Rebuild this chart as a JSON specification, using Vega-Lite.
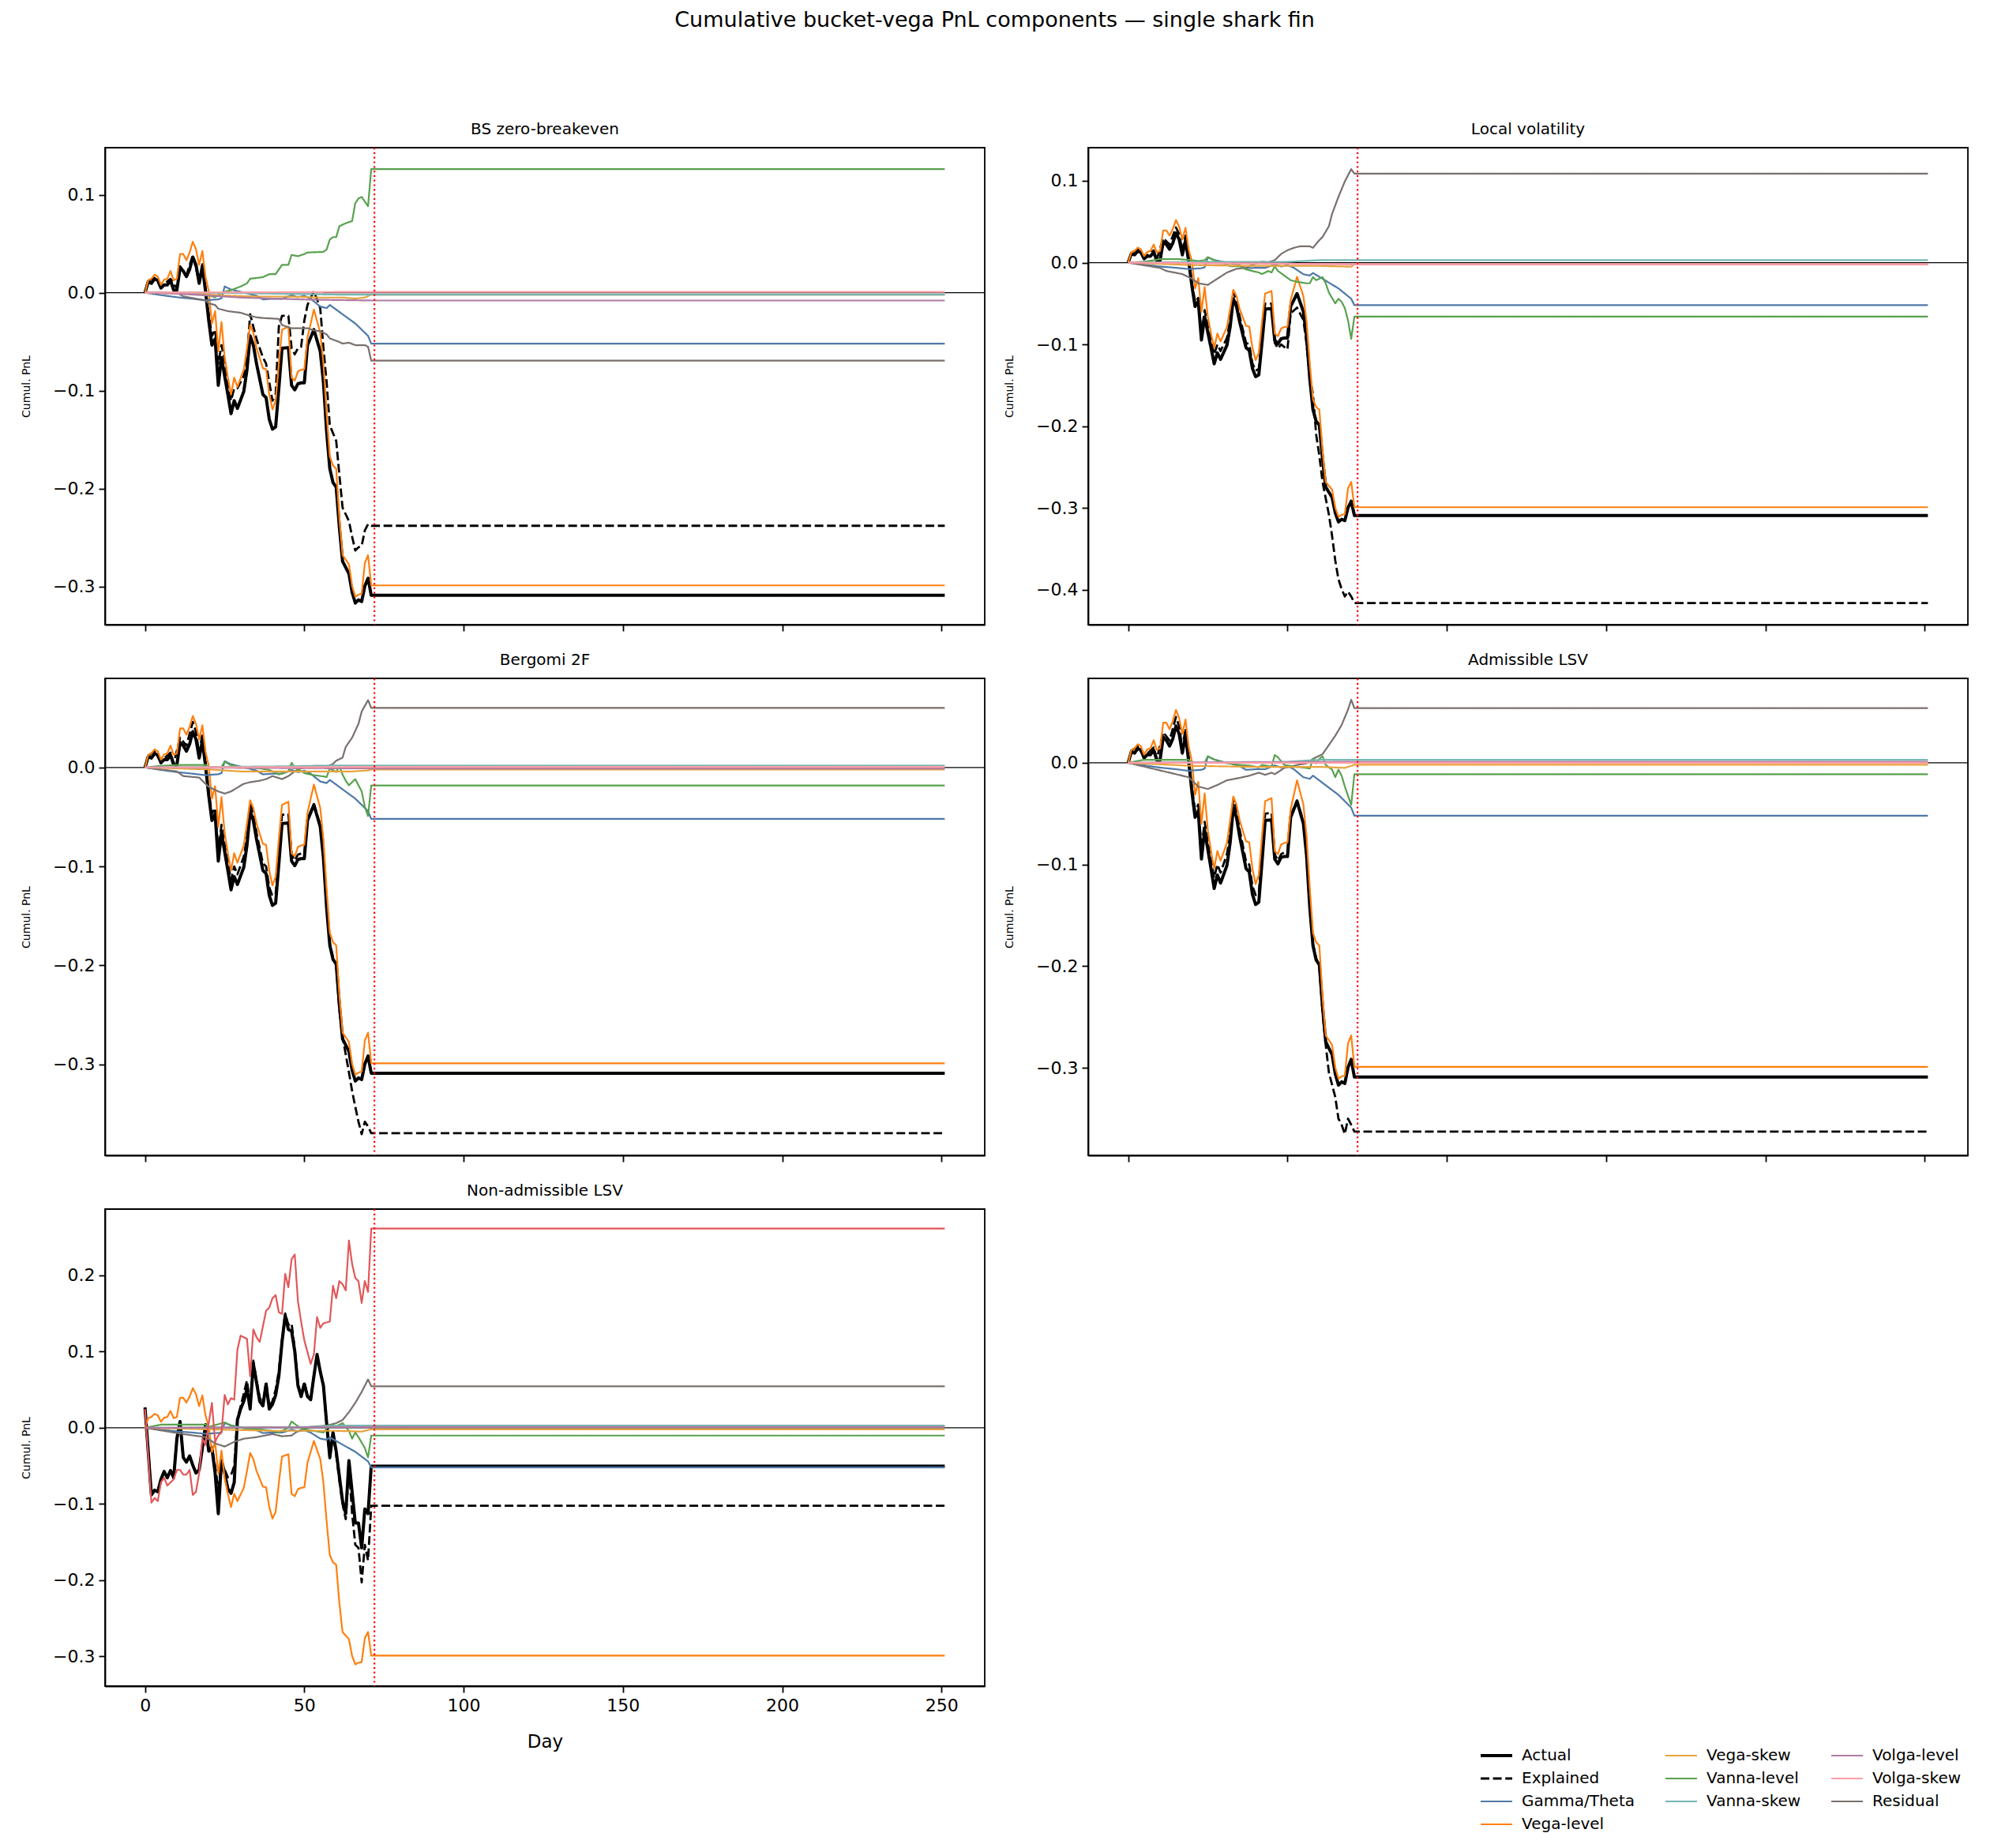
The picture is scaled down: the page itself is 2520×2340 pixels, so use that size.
{
  "$schema": "https://vega.github.io/schema/vega-lite/v6.json",
  "background": "white",
  "autosize": {"type": "pad"},
  "padding": {"left": 25, "top": 12, "right": 5, "bottom": 5},
  "title": {"text": "Cumulative bucket-vega PnL components — single shark fin", "fontSize": 27, "font": "DejaVu Sans", "fontWeight": "normal", "color": "black", "anchor": "middle", "offset": 113},
  "config": {
    "font": "DejaVu Sans",
    "view": {"stroke": "black", "strokeWidth": 1.8},
    "axis": {"domainColor": "black", "domainWidth": 1.8, "tickColor": "black", "tickWidth": 1.8, "tickSize": 8, "labelFont": "DejaVu Sans", "labelFontSize": 22, "labelColor": "black", "labelPadding": 5, "grid": false, "titleFont": "DejaVu Sans", "titleFontWeight": "normal", "titleColor": "black"},
    "title": {"font": "DejaVu Sans", "fontWeight": "normal", "fontSize": 20, "color": "black", "offset": 12},
    "legend": {"labelFont": "DejaVu Sans", "labelFontSize": 20, "labelColor": "black", "symbolType": "M-2,0H2", "symbolSize": 400, "columns": 3, "direction": "vertical", "columnPadding": 33, "rowPadding": 9, "labelOffset": 22, "orient": "none", "legendX": 1752, "legendY": 2026}
  },
  "datasets": {
    "pnl": [
      {"p":"A","s":"Actual","d":0,"v":0},{"p":"A","s":"Actual","d":1,"v":0.011},{"p":"A","s":"Actual","d":2,"v":0.0095},{"p":"A","s":"Actual","d":3,"v":0.014},{"p":"A","s":"Actual","d":4,"v":0.0126},{"p":"A","s":"Actual","d":5,"v":0.0047},{"p":"A","s":"Actual","d":6,"v":0.0079},{"p":"A","s":"Actual","d":7,"v":0.0079},{"p":"A","s":"Actual","d":8,"v":0.0126},{"p":"A","s":"Actual","d":9,"v":0.0025},{"p":"A","s":"Actual","d":10,"v":0.0025},{"p":"A","s":"Actual","d":11,"v":0.0252},{"p":"A","s":"Actual","d":12,"v":0.0221},{"p":"A","s":"Actual","d":13,"v":0.0164},{"p":"A","s":"Actual","d":14,"v":0.0236},{"p":"A","s":"Actual","d":15,"v":0.0363},{"p":"A","s":"Actual","d":16,"v":0.0284},{"p":"A","s":"Actual","d":17,"v":0.0095},{"p":"A","s":"Actual","d":18,"v":0.0268},{"p":"A","s":"Actual","d":19,"v":0.0016},{"p":"A","s":"Actual","d":20,"v":-0.0284},{"p":"A","s":"Actual","d":21,"v":-0.0536},{"p":"A","s":"Actual","d":22,"v":-0.0473},{"p":"A","s":"Actual","d":23,"v":-0.0946},{"p":"A","s":"Actual","d":24,"v":-0.0662},{"p":"A","s":"Actual","d":25,"v":-0.0851},{"p":"A","s":"Actual","d":26,"v":-0.104},{"p":"A","s":"Actual","d":27,"v":-0.1236},{"p":"A","s":"Actual","d":28,"v":-0.1103},{"p":"A","s":"Actual","d":29,"v":-0.1182},{"p":"A","s":"Actual","d":31,"v":-0.1009},{"p":"A","s":"Actual","d":32,"v":-0.0788},{"p":"A","s":"Actual","d":33,"v":-0.0441},{"p":"A","s":"Actual","d":34,"v":-0.0536},{"p":"A","s":"Actual","d":35,"v":-0.0725},{"p":"A","s":"Actual","d":37,"v":-0.104},{"p":"A","s":"Actual","d":38,"v":-0.1072},{"p":"A","s":"Actual","d":39,"v":-0.1293},{"p":"A","s":"Actual","d":40,"v":-0.1393},{"p":"A","s":"Actual","d":41,"v":-0.1371},{"p":"A","s":"Actual","d":42,"v":-0.0977},{"p":"A","s":"Actual","d":43,"v":-0.0567},{"p":"A","s":"Actual","d":45,"v":-0.0561},{"p":"A","s":"Actual","d":46,"v":-0.0946},{"p":"A","s":"Actual","d":47,"v":-0.0993},{"p":"A","s":"Actual","d":48,"v":-0.093},{"p":"A","s":"Actual","d":49,"v":-0.0921},{"p":"A","s":"Actual","d":50,"v":-0.0921},{"p":"A","s":"Actual","d":51,"v":-0.0536},{"p":"A","s":"Actual","d":53,"v":-0.0378},{"p":"A","s":"Actual","d":55,"v":-0.0599},{"p":"A","s":"Actual","d":56,"v":-0.0914},{"p":"A","s":"Actual","d":57,"v":-0.1419},{"p":"A","s":"Actual","d":58,"v":-0.1797},{"p":"A","s":"Actual","d":59,"v":-0.1939},{"p":"A","s":"Actual","d":60,"v":-0.1986},{"p":"A","s":"Actual","d":61,"v":-0.2396},{"p":"A","s":"Actual","d":62,"v":-0.2743},{"p":"A","s":"Actual","d":64,"v":-0.2869},{"p":"A","s":"Actual","d":65,"v":-0.3058},{"p":"A","s":"Actual","d":66,"v":-0.3169},{"p":"A","s":"Actual","d":67,"v":-0.3137},{"p":"A","s":"Actual","d":68,"v":-0.3153},{"p":"A","s":"Actual","d":69,"v":-0.2995},{"p":"A","s":"Actual","d":70,"v":-0.2916},{"p":"A","s":"Actual","d":71,"v":-0.309},{"p":"A","s":"Actual","d":72,"v":-0.309},{"p":"A","s":"Actual","d":251,"v":-0.309},
      {"p":"A","s":"Vega-level","d":0,"v":0},{"p":"A","s":"Vega-level","d":1,"v":0.0126},{"p":"A","s":"Vega-level","d":2,"v":0.0142},{"p":"A","s":"Vega-level","d":3,"v":0.0183},{"p":"A","s":"Vega-level","d":4,"v":0.0164},{"p":"A","s":"Vega-level","d":5,"v":0.0079},{"p":"A","s":"Vega-level","d":6,"v":0.0132},{"p":"A","s":"Vega-level","d":7,"v":0.0142},{"p":"A","s":"Vega-level","d":8,"v":0.0221},{"p":"A","s":"Vega-level","d":9,"v":0.0126},{"p":"A","s":"Vega-level","d":10,"v":0.0142},{"p":"A","s":"Vega-level","d":11,"v":0.0394},{"p":"A","s":"Vega-level","d":12,"v":0.0394},{"p":"A","s":"Vega-level","d":13,"v":0.0331},{"p":"A","s":"Vega-level","d":14,"v":0.041},{"p":"A","s":"Vega-level","d":15,"v":0.052},{"p":"A","s":"Vega-level","d":16,"v":0.0441},{"p":"A","s":"Vega-level","d":17,"v":0.0284},{"p":"A","s":"Vega-level","d":18,"v":0.0426},{"p":"A","s":"Vega-level","d":19,"v":0.0158},{"p":"A","s":"Vega-level","d":20,"v":0.0016},{"p":"A","s":"Vega-level","d":21,"v":-0.0315},{"p":"A","s":"Vega-level","d":22,"v":-0.0189},{"p":"A","s":"Vega-level","d":23,"v":-0.0599},{"p":"A","s":"Vega-level","d":24,"v":-0.03},{"p":"A","s":"Vega-level","d":25,"v":-0.0662},{"p":"A","s":"Vega-level","d":26,"v":-0.0867},{"p":"A","s":"Vega-level","d":27,"v":-0.104},{"p":"A","s":"Vega-level","d":28,"v":-0.0867},{"p":"A","s":"Vega-level","d":29,"v":-0.0962},{"p":"A","s":"Vega-level","d":31,"v":-0.0788},{"p":"A","s":"Vega-level","d":32,"v":-0.0567},{"p":"A","s":"Vega-level","d":33,"v":-0.0331},{"p":"A","s":"Vega-level","d":34,"v":-0.041},{"p":"A","s":"Vega-level","d":35,"v":-0.0567},{"p":"A","s":"Vega-level","d":37,"v":-0.0772},{"p":"A","s":"Vega-level","d":38,"v":-0.0782},{"p":"A","s":"Vega-level","d":39,"v":-0.104},{"p":"A","s":"Vega-level","d":40,"v":-0.1192},{"p":"A","s":"Vega-level","d":41,"v":-0.1103},{"p":"A","s":"Vega-level","d":42,"v":-0.0725},{"p":"A","s":"Vega-level","d":43,"v":-0.0378},{"p":"A","s":"Vega-level","d":45,"v":-0.0347},{"p":"A","s":"Vega-level","d":46,"v":-0.0867},{"p":"A","s":"Vega-level","d":47,"v":-0.0898},{"p":"A","s":"Vega-level","d":48,"v":-0.0804},{"p":"A","s":"Vega-level","d":49,"v":-0.0788},{"p":"A","s":"Vega-level","d":50,"v":-0.0782},{"p":"A","s":"Vega-level","d":51,"v":-0.0457},{"p":"A","s":"Vega-level","d":53,"v":-0.0173},{"p":"A","s":"Vega-level","d":55,"v":-0.041},{"p":"A","s":"Vega-level","d":56,"v":-0.0725},{"p":"A","s":"Vega-level","d":57,"v":-0.123},{"p":"A","s":"Vega-level","d":58,"v":-0.1671},{"p":"A","s":"Vega-level","d":59,"v":-0.1765},{"p":"A","s":"Vega-level","d":60,"v":-0.1797},{"p":"A","s":"Vega-level","d":61,"v":-0.2301},{"p":"A","s":"Vega-level","d":62,"v":-0.268},{"p":"A","s":"Vega-level","d":64,"v":-0.2774},{"p":"A","s":"Vega-level","d":65,"v":-0.2995},{"p":"A","s":"Vega-level","d":66,"v":-0.3105},{"p":"A","s":"Vega-level","d":67,"v":-0.3083},{"p":"A","s":"Vega-level","d":68,"v":-0.3074},{"p":"A","s":"Vega-level","d":69,"v":-0.2759},{"p":"A","s":"Vega-level","d":70,"v":-0.268},{"p":"A","s":"Vega-level","d":71,"v":-0.2989},{"p":"A","s":"Vega-level","d":72,"v":-0.2989},{"p":"A","s":"Vega-level","d":251,"v":-0.2989},
      {"p":"A","s":"Gamma/Theta","d":0,"v":0},{"p":"A","s":"Gamma/Theta","d":5,"v":-0.0025},{"p":"A","s":"Gamma/Theta","d":10,"v":-0.0047},{"p":"A","s":"Gamma/Theta","d":15,"v":-0.0063},{"p":"A","s":"Gamma/Theta","d":19,"v":-0.0079},{"p":"A","s":"Gamma/Theta","d":21,"v":-0.0073},{"p":"A","s":"Gamma/Theta","d":23,"v":-0.0069},{"p":"A","s":"Gamma/Theta","d":24,"v":-0.0057},{"p":"A","s":"Gamma/Theta","d":25,"v":0.0063},{"p":"A","s":"Gamma/Theta","d":27,"v":0.0032},{"p":"A","s":"Gamma/Theta","d":31,"v":0},{"p":"A","s":"Gamma/Theta","d":32,"v":-0.0006},{"p":"A","s":"Gamma/Theta","d":35,"v":-0.0032},{"p":"A","s":"Gamma/Theta","d":37,"v":-0.0069},{"p":"A","s":"Gamma/Theta","d":40,"v":-0.0063},{"p":"A","s":"Gamma/Theta","d":43,"v":-0.0063},{"p":"A","s":"Gamma/Theta","d":46,"v":-0.0025},{"p":"A","s":"Gamma/Theta","d":48,"v":-0.0047},{"p":"A","s":"Gamma/Theta","d":50,"v":-0.0032},{"p":"A","s":"Gamma/Theta","d":52,"v":-0.0063},{"p":"A","s":"Gamma/Theta","d":55,"v":-0.0142},{"p":"A","s":"Gamma/Theta","d":57,"v":-0.0158},{"p":"A","s":"Gamma/Theta","d":58,"v":-0.0126},{"p":"A","s":"Gamma/Theta","d":60,"v":-0.0173},{"p":"A","s":"Gamma/Theta","d":62,"v":-0.0221},{"p":"A","s":"Gamma/Theta","d":64,"v":-0.0268},{"p":"A","s":"Gamma/Theta","d":66,"v":-0.0315},{"p":"A","s":"Gamma/Theta","d":68,"v":-0.0378},{"p":"A","s":"Gamma/Theta","d":70,"v":-0.0441},{"p":"A","s":"Gamma/Theta","d":71,"v":-0.052},{"p":"A","s":"Gamma/Theta","d":251,"v":-0.052},

      {"p":"BS","s":"Explained","d":0,"v":0},{"p":"BS","s":"Explained","d":1,"v":0.012},{"p":"BS","s":"Explained","d":3,"v":0.015},{"p":"BS","s":"Explained","d":5,"v":0.006},{"p":"BS","s":"Explained","d":8,"v":0.014},{"p":"BS","s":"Explained","d":10,"v":0.004},{"p":"BS","s":"Explained","d":11,"v":0.027},{"p":"BS","s":"Explained","d":13,"v":0.018},{"p":"BS","s":"Explained","d":15,"v":0.038},{"p":"BS","s":"Explained","d":17,"v":0.011},{"p":"BS","s":"Explained","d":18,"v":0.029},{"p":"BS","s":"Explained","d":19,"v":0.003},{"p":"BS","s":"Explained","d":20,"v":-0.022},{"p":"BS","s":"Explained","d":21,"v":-0.0441},{"p":"BS","s":"Explained","d":22,"v":-0.0378},{"p":"BS","s":"Explained","d":23,"v":-0.0725},{"p":"BS","s":"Explained","d":24,"v":-0.0536},{"p":"BS","s":"Explained","d":25,"v":-0.069},{"p":"BS","s":"Explained","d":26,"v":-0.0914},{"p":"BS","s":"Explained","d":27,"v":-0.1103},{"p":"BS","s":"Explained","d":28,"v":-0.0977},{"p":"BS","s":"Explained","d":29,"v":-0.0977},{"p":"BS","s":"Explained","d":31,"v":-0.085},{"p":"BS","s":"Explained","d":32,"v":-0.0662},{"p":"BS","s":"Explained","d":33,"v":-0.0221},{"p":"BS","s":"Explained","d":34,"v":-0.0347},{"p":"BS","s":"Explained","d":35,"v":-0.0473},{"p":"BS","s":"Explained","d":37,"v":-0.0662},{"p":"BS","s":"Explained","d":38,"v":-0.0725},{"p":"BS","s":"Explained","d":39,"v":-0.0914},{"p":"BS","s":"Explained","d":40,"v":-0.1103},{"p":"BS","s":"Explained","d":41,"v":-0.104},{"p":"BS","s":"Explained","d":42,"v":-0.0347},{"p":"BS","s":"Explained","d":43,"v":-0.0236},{"p":"BS","s":"Explained","d":45,"v":-0.0236},{"p":"BS","s":"Explained","d":46,"v":-0.0567},{"p":"BS","s":"Explained","d":47,"v":-0.063},{"p":"BS","s":"Explained","d":48,"v":-0.0567},{"p":"BS","s":"Explained","d":49,"v":-0.0552},{"p":"BS","s":"Explained","d":50,"v":-0.0284},{"p":"BS","s":"Explained","d":51,"v":-0.0126},{"p":"BS","s":"Explained","d":53,"v":0.0016},{"p":"BS","s":"Explained","d":55,"v":-0.0158},{"p":"BS","s":"Explained","d":56,"v":-0.0567},{"p":"BS","s":"Explained","d":57,"v":-0.0914},{"p":"BS","s":"Explained","d":58,"v":-0.1356},{"p":"BS","s":"Explained","d":60,"v":-0.1513},{"p":"BS","s":"Explained","d":61,"v":-0.186},{"p":"BS","s":"Explained","d":62,"v":-0.2194},{"p":"BS","s":"Explained","d":64,"v":-0.2333},{"p":"BS","s":"Explained","d":65,"v":-0.2491},{"p":"BS","s":"Explained","d":66,"v":-0.2633},{"p":"BS","s":"Explained","d":67,"v":-0.26},{"p":"BS","s":"Explained","d":68,"v":-0.2585},{"p":"BS","s":"Explained","d":69,"v":-0.2427},{"p":"BS","s":"Explained","d":70,"v":-0.2364},{"p":"BS","s":"Explained","d":71,"v":-0.238},{"p":"BS","s":"Explained","d":251,"v":-0.238},
      {"p":"BS","s":"Vanna-level","d":0,"v":0},{"p":"BS","s":"Vanna-level","d":19,"v":0},{"p":"BS","s":"Vanna-level","d":20,"v":-0.003},{"p":"BS","s":"Vanna-level","d":22,"v":-0.0047},{"p":"BS","s":"Vanna-level","d":24,"v":0},{"p":"BS","s":"Vanna-level","d":27,"v":0.0025},{"p":"BS","s":"Vanna-level","d":30,"v":0.0063},{"p":"BS","s":"Vanna-level","d":32,"v":0.0095},{"p":"BS","s":"Vanna-level","d":33,"v":0.0142},{"p":"BS","s":"Vanna-level","d":37,"v":0.0158},{"p":"BS","s":"Vanna-level","d":39,"v":0.0189},{"p":"BS","s":"Vanna-level","d":41,"v":0.0189},{"p":"BS","s":"Vanna-level","d":42,"v":0.0236},{"p":"BS","s":"Vanna-level","d":43,"v":0.0284},{"p":"BS","s":"Vanna-level","d":45,"v":0.0284},{"p":"BS","s":"Vanna-level","d":46,"v":0.0385},{"p":"BS","s":"Vanna-level","d":48,"v":0.0372},{"p":"BS","s":"Vanna-level","d":50,"v":0.0394},{"p":"BS","s":"Vanna-level","d":51,"v":0.041},{"p":"BS","s":"Vanna-level","d":56,"v":0.0416},{"p":"BS","s":"Vanna-level","d":57,"v":0.0441},{"p":"BS","s":"Vanna-level","d":58,"v":0.0542},{"p":"BS","s":"Vanna-level","d":59,"v":0.0567},{"p":"BS","s":"Vanna-level","d":60,"v":0.0567},{"p":"BS","s":"Vanna-level","d":61,"v":0.0678},{"p":"BS","s":"Vanna-level","d":63,"v":0.0709},{"p":"BS","s":"Vanna-level","d":65,"v":0.0731},{"p":"BS","s":"Vanna-level","d":66,"v":0.0914},{"p":"BS","s":"Vanna-level","d":67,"v":0.0962},{"p":"BS","s":"Vanna-level","d":68,"v":0.0977},{"p":"BS","s":"Vanna-level","d":69,"v":0.093},{"p":"BS","s":"Vanna-level","d":70,"v":0.0883},{"p":"BS","s":"Vanna-level","d":71,"v":0.1261},{"p":"BS","s":"Vanna-level","d":251,"v":0.1261},
      {"p":"BS","s":"Residual","d":0,"v":0},{"p":"BS","s":"Residual","d":10,"v":0},{"p":"BS","s":"Residual","d":12,"v":-0.0038},{"p":"BS","s":"Residual","d":19,"v":-0.0079},{"p":"BS","s":"Residual","d":20,"v":-0.011},{"p":"BS","s":"Residual","d":22,"v":-0.0126},{"p":"BS","s":"Residual","d":23,"v":-0.0164},{"p":"BS","s":"Residual","d":26,"v":-0.0189},{"p":"BS","s":"Residual","d":30,"v":-0.0205},{"p":"BS","s":"Residual","d":33,"v":-0.0236},{"p":"BS","s":"Residual","d":35,"v":-0.0252},{"p":"BS","s":"Residual","d":37,"v":-0.0259},{"p":"BS","s":"Residual","d":42,"v":-0.0268},{"p":"BS","s":"Residual","d":43,"v":-0.0331},{"p":"BS","s":"Residual","d":46,"v":-0.0363},{"p":"BS","s":"Residual","d":51,"v":-0.0363},{"p":"BS","s":"Residual","d":53,"v":-0.0385},{"p":"BS","s":"Residual","d":55,"v":-0.0394},{"p":"BS","s":"Residual","d":57,"v":-0.0426},{"p":"BS","s":"Residual","d":58,"v":-0.0467},{"p":"BS","s":"Residual","d":61,"v":-0.0504},{"p":"BS","s":"Residual","d":62,"v":-0.052},{"p":"BS","s":"Residual","d":64,"v":-0.0511},{"p":"BS","s":"Residual","d":66,"v":-0.0536},{"p":"BS","s":"Residual","d":69,"v":-0.0536},{"p":"BS","s":"Residual","d":70,"v":-0.0552},{"p":"BS","s":"Residual","d":71,"v":-0.0694},{"p":"BS","s":"Residual","d":251,"v":-0.0694},
      {"p":"BS","s":"Vega-skew","d":0,"v":0},{"p":"BS","s":"Vega-skew","d":10,"v":-0.001},{"p":"BS","s":"Vega-skew","d":20,"v":-0.002},{"p":"BS","s":"Vega-skew","d":25,"v":-0.003},{"p":"BS","s":"Vega-skew","d":35,"v":-0.004},{"p":"BS","s":"Vega-skew","d":45,"v":-0.004},{"p":"BS","s":"Vega-skew","d":55,"v":-0.005},{"p":"BS","s":"Vega-skew","d":62,"v":-0.005},{"p":"BS","s":"Vega-skew","d":66,"v":-0.006},{"p":"BS","s":"Vega-skew","d":69,"v":-0.005},{"p":"BS","s":"Vega-skew","d":71,"v":-0.002},{"p":"BS","s":"Vega-skew","d":251,"v":-0.002},
      {"p":"BS","s":"Vanna-skew","d":0,"v":0},{"p":"BS","s":"Vanna-skew","d":20,"v":0},{"p":"BS","s":"Vanna-skew","d":40,"v":-0.001},{"p":"BS","s":"Vanna-skew","d":60,"v":-0.002},{"p":"BS","s":"Vanna-skew","d":71,"v":-0.002},{"p":"BS","s":"Vanna-skew","d":251,"v":-0.002},
      {"p":"BS","s":"Volga-level","d":0,"v":0},{"p":"BS","s":"Volga-level","d":10,"v":-0.001},{"p":"BS","s":"Volga-level","d":20,"v":-0.003},{"p":"BS","s":"Volga-level","d":30,"v":-0.005},{"p":"BS","s":"Volga-level","d":40,"v":-0.006},{"p":"BS","s":"Volga-level","d":50,"v":-0.007},{"p":"BS","s":"Volga-level","d":60,"v":-0.0075},{"p":"BS","s":"Volga-level","d":71,"v":-0.008},{"p":"BS","s":"Volga-level","d":251,"v":-0.008},
      {"p":"BS","s":"Volga-skew","d":0,"v":0},{"p":"BS","s":"Volga-skew","d":71,"v":0.0008},{"p":"BS","s":"Volga-skew","d":251,"v":0.0008},

      {"p":"LV","s":"Explained","d":0,"v":0},{"p":"LV","s":"Explained","d":1,"v":0.012},{"p":"LV","s":"Explained","d":3,"v":0.016},{"p":"LV","s":"Explained","d":5,"v":0.006},{"p":"LV","s":"Explained","d":8,"v":0.015},{"p":"LV","s":"Explained","d":9,"v":0.004},{"p":"LV","s":"Explained","d":11,"v":0.03},{"p":"LV","s":"Explained","d":13,"v":0.022},{"p":"LV","s":"Explained","d":15,"v":0.043},{"p":"LV","s":"Explained","d":16,"v":0.035},{"p":"LV","s":"Explained","d":17,"v":0.014},{"p":"LV","s":"Explained","d":18,"v":0.033},{"p":"LV","s":"Explained","d":19,"v":0.004},{"p":"LV","s":"Explained","d":20,"v":-0.025},{"p":"LV","s":"Explained","d":21,"v":-0.048},{"p":"LV","s":"Explained","d":22,"v":-0.043},{"p":"LV","s":"Explained","d":23,"v":-0.088},{"p":"LV","s":"Explained","d":24,"v":-0.058},{"p":"LV","s":"Explained","d":25,"v":-0.078},{"p":"LV","s":"Explained","d":26,"v":-0.096},{"p":"LV","s":"Explained","d":27,"v":-0.112},{"p":"LV","s":"Explained","d":28,"v":-0.1},{"p":"LV","s":"Explained","d":29,"v":-0.108},{"p":"LV","s":"Explained","d":31,"v":-0.092},{"p":"LV","s":"Explained","d":32,"v":-0.07},{"p":"LV","s":"Explained","d":33,"v":-0.036},{"p":"LV","s":"Explained","d":34,"v":-0.047},{"p":"LV","s":"Explained","d":35,"v":-0.066},{"p":"LV","s":"Explained","d":37,"v":-0.098},{"p":"LV","s":"Explained","d":38,"v":-0.1},{"p":"LV","s":"Explained","d":39,"v":-0.123},{"p":"LV","s":"Explained","d":40,"v":-0.132},{"p":"LV","s":"Explained","d":41,"v":-0.13},{"p":"LV","s":"Explained","d":42,"v":-0.09},{"p":"LV","s":"Explained","d":43,"v":-0.05},{"p":"LV","s":"Explained","d":45,"v":-0.05},{"p":"LV","s":"Explained","d":46,"v":-0.098},{"p":"LV","s":"Explained","d":47,"v":-0.105},{"p":"LV","s":"Explained","d":48,"v":-0.1},{"p":"LV","s":"Explained","d":49,"v":-0.103},{"p":"LV","s":"Explained","d":50,"v":-0.106},{"p":"LV","s":"Explained","d":51,"v":-0.062},{"p":"LV","s":"Explained","d":53,"v":-0.055},{"p":"LV","s":"Explained","d":55,"v":-0.07},{"p":"LV","s":"Explained","d":56,"v":-0.1},{"p":"LV","s":"Explained","d":57,"v":-0.14},{"p":"LV","s":"Explained","d":58,"v":-0.161},{"p":"LV","s":"Explained","d":59,"v":-0.21},{"p":"LV","s":"Explained","d":60,"v":-0.236},{"p":"LV","s":"Explained","d":61,"v":-0.268},{"p":"LV","s":"Explained","d":63,"v":-0.308},{"p":"LV","s":"Explained","d":64,"v":-0.334},{"p":"LV","s":"Explained","d":65,"v":-0.364},{"p":"LV","s":"Explained","d":66,"v":-0.387},{"p":"LV","s":"Explained","d":67,"v":-0.399},{"p":"LV","s":"Explained","d":68,"v":-0.408},{"p":"LV","s":"Explained","d":69,"v":-0.402},{"p":"LV","s":"Explained","d":70,"v":-0.408},{"p":"LV","s":"Explained","d":71,"v":-0.416},{"p":"LV","s":"Explained","d":251,"v":-0.416},
      {"p":"LV","s":"Residual","d":0,"v":0},{"p":"LV","s":"Residual","d":10,"v":-0.0064},{"p":"LV","s":"Residual","d":12,"v":-0.0102},{"p":"LV","s":"Residual","d":17,"v":-0.014},{"p":"LV","s":"Residual","d":20,"v":-0.0196},{"p":"LV","s":"Residual","d":22,"v":-0.0253},{"p":"LV","s":"Residual","d":25,"v":-0.0272},{"p":"LV","s":"Residual","d":28,"v":-0.0196},{"p":"LV","s":"Residual","d":31,"v":-0.0121},{"p":"LV","s":"Residual","d":34,"v":-0.0075},{"p":"LV","s":"Residual","d":37,"v":-0.0064},{"p":"LV","s":"Residual","d":39,"v":-0.0026},{"p":"LV","s":"Residual","d":42,"v":0.0011},{"p":"LV","s":"Residual","d":44,"v":0.0004},{"p":"LV","s":"Residual","d":46,"v":0.003},{"p":"LV","s":"Residual","d":48,"v":0.0106},{"p":"LV","s":"Residual","d":50,"v":0.0151},{"p":"LV","s":"Residual","d":52,"v":0.0181},{"p":"LV","s":"Residual","d":54,"v":0.02},{"p":"LV","s":"Residual","d":57,"v":0.02},{"p":"LV","s":"Residual","d":58,"v":0.0181},{"p":"LV","s":"Residual","d":60,"v":0.0275},{"p":"LV","s":"Residual","d":61,"v":0.0313},{"p":"LV","s":"Residual","d":63,"v":0.0445},{"p":"LV","s":"Residual","d":64,"v":0.0596},{"p":"LV","s":"Residual","d":66,"v":0.0804},{"p":"LV","s":"Residual","d":68,"v":0.0992},{"p":"LV","s":"Residual","d":70,"v":0.1143},{"p":"LV","s":"Residual","d":71,"v":0.1087},{"p":"LV","s":"Residual","d":251,"v":0.1087},
      {"p":"LV","s":"Vanna-level","d":0,"v":0},{"p":"LV","s":"Vanna-level","d":5,"v":0.0011},{"p":"LV","s":"Vanna-level","d":10,"v":0.0042},{"p":"LV","s":"Vanna-level","d":16,"v":0.0042},{"p":"LV","s":"Vanna-level","d":20,"v":0.003},{"p":"LV","s":"Vanna-level","d":22,"v":0.0019},{"p":"LV","s":"Vanna-level","d":24,"v":0.003},{"p":"LV","s":"Vanna-level","d":25,"v":0.0068},{"p":"LV","s":"Vanna-level","d":27,"v":0.003},{"p":"LV","s":"Vanna-level","d":30,"v":-0.0008},{"p":"LV","s":"Vanna-level","d":32,"v":-0.0045},{"p":"LV","s":"Vanna-level","d":35,"v":-0.0045},{"p":"LV","s":"Vanna-level","d":37,"v":-0.0083},{"p":"LV","s":"Vanna-level","d":39,"v":-0.0102},{"p":"LV","s":"Vanna-level","d":41,"v":-0.0121},{"p":"LV","s":"Vanna-level","d":42,"v":-0.014},{"p":"LV","s":"Vanna-level","d":44,"v":-0.0102},{"p":"LV","s":"Vanna-level","d":45,"v":-0.0121},{"p":"LV","s":"Vanna-level","d":46,"v":-0.0045},{"p":"LV","s":"Vanna-level","d":47,"v":-0.0102},{"p":"LV","s":"Vanna-level","d":49,"v":-0.0158},{"p":"LV","s":"Vanna-level","d":51,"v":-0.0215},{"p":"LV","s":"Vanna-level","d":53,"v":-0.0234},{"p":"LV","s":"Vanna-level","d":56,"v":-0.0253},{"p":"LV","s":"Vanna-level","d":57,"v":-0.0253},{"p":"LV","s":"Vanna-level","d":58,"v":-0.0177},{"p":"LV","s":"Vanna-level","d":59,"v":-0.0215},{"p":"LV","s":"Vanna-level","d":60,"v":-0.0196},{"p":"LV","s":"Vanna-level","d":61,"v":-0.0177},{"p":"LV","s":"Vanna-level","d":62,"v":-0.0253},{"p":"LV","s":"Vanna-level","d":63,"v":-0.0366},{"p":"LV","s":"Vanna-level","d":65,"v":-0.0498},{"p":"LV","s":"Vanna-level","d":66,"v":-0.0442},{"p":"LV","s":"Vanna-level","d":67,"v":-0.0479},{"p":"LV","s":"Vanna-level","d":68,"v":-0.0555},{"p":"LV","s":"Vanna-level","d":69,"v":-0.0706},{"p":"LV","s":"Vanna-level","d":70,"v":-0.0932},{"p":"LV","s":"Vanna-level","d":71,"v":-0.066},{"p":"LV","s":"Vanna-level","d":251,"v":-0.066},
      {"p":"LV","s":"Vega-skew","d":0,"v":0},{"p":"LV","s":"Vega-skew","d":20,"v":-0.003},{"p":"LV","s":"Vega-skew","d":40,"v":-0.004},{"p":"LV","s":"Vega-skew","d":60,"v":-0.004},{"p":"LV","s":"Vega-skew","d":70,"v":-0.005},{"p":"LV","s":"Vega-skew","d":71,"v":-0.002},{"p":"LV","s":"Vega-skew","d":251,"v":-0.002},
      {"p":"LV","s":"Vanna-skew","d":0,"v":0},{"p":"LV","s":"Vanna-skew","d":30,"v":0.001},{"p":"LV","s":"Vanna-skew","d":50,"v":0.001},{"p":"LV","s":"Vanna-skew","d":60,"v":0.003},{"p":"LV","s":"Vanna-skew","d":71,"v":0.003},{"p":"LV","s":"Vanna-skew","d":251,"v":0.003},
      {"p":"LV","s":"Volga-level","d":0,"v":0},{"p":"LV","s":"Volga-level","d":40,"v":-0.001},{"p":"LV","s":"Volga-level","d":71,"v":-0.002},{"p":"LV","s":"Volga-level","d":251,"v":-0.002},
      {"p":"LV","s":"Volga-skew","d":0,"v":0},{"p":"LV","s":"Volga-skew","d":71,"v":-0.002},{"p":"LV","s":"Volga-skew","d":251,"v":-0.002},

      {"p":"B2","s":"Explained","d":0,"v":0},{"p":"B2","s":"Explained","d":1,"v":0.012},{"p":"B2","s":"Explained","d":3,"v":0.016},{"p":"B2","s":"Explained","d":5,"v":0.006},{"p":"B2","s":"Explained","d":8,"v":0.015},{"p":"B2","s":"Explained","d":9,"v":0.004},{"p":"B2","s":"Explained","d":11,"v":0.03},{"p":"B2","s":"Explained","d":13,"v":0.022},{"p":"B2","s":"Explained","d":15,"v":0.046},{"p":"B2","s":"Explained","d":16,"v":0.036},{"p":"B2","s":"Explained","d":17,"v":0.014},{"p":"B2","s":"Explained","d":18,"v":0.034},{"p":"B2","s":"Explained","d":19,"v":0.004},{"p":"B2","s":"Explained","d":20,"v":-0.024},{"p":"B2","s":"Explained","d":21,"v":-0.047},{"p":"B2","s":"Explained","d":22,"v":-0.041},{"p":"B2","s":"Explained","d":23,"v":-0.085},{"p":"B2","s":"Explained","d":24,"v":-0.058},{"p":"B2","s":"Explained","d":25,"v":-0.078},{"p":"B2","s":"Explained","d":26,"v":-0.096},{"p":"B2","s":"Explained","d":27,"v":-0.114},{"p":"B2","s":"Explained","d":28,"v":-0.1},{"p":"B2","s":"Explained","d":29,"v":-0.108},{"p":"B2","s":"Explained","d":31,"v":-0.09},{"p":"B2","s":"Explained","d":32,"v":-0.07},{"p":"B2","s":"Explained","d":33,"v":-0.036},{"p":"B2","s":"Explained","d":34,"v":-0.046},{"p":"B2","s":"Explained","d":35,"v":-0.066},{"p":"B2","s":"Explained","d":37,"v":-0.097},{"p":"B2","s":"Explained","d":38,"v":-0.1},{"p":"B2","s":"Explained","d":39,"v":-0.121},{"p":"B2","s":"Explained","d":40,"v":-0.13},{"p":"B2","s":"Explained","d":41,"v":-0.128},{"p":"B2","s":"Explained","d":42,"v":-0.09},{"p":"B2","s":"Explained","d":43,"v":-0.048},{"p":"B2","s":"Explained","d":45,"v":-0.047},{"p":"B2","s":"Explained","d":46,"v":-0.088},{"p":"B2","s":"Explained","d":47,"v":-0.094},{"p":"B2","s":"Explained","d":48,"v":-0.088},{"p":"B2","s":"Explained","d":49,"v":-0.087},{"p":"B2","s":"Explained","d":50,"v":-0.087},{"p":"B2","s":"Explained","d":51,"v":-0.052},{"p":"B2","s":"Explained","d":53,"v":-0.037},{"p":"B2","s":"Explained","d":55,"v":-0.058},{"p":"B2","s":"Explained","d":56,"v":-0.09},{"p":"B2","s":"Explained","d":57,"v":-0.14},{"p":"B2","s":"Explained","d":58,"v":-0.178},{"p":"B2","s":"Explained","d":59,"v":-0.192},{"p":"B2","s":"Explained","d":60,"v":-0.2},{"p":"B2","s":"Explained","d":61,"v":-0.245},{"p":"B2","s":"Explained","d":62,"v":-0.272},{"p":"B2","s":"Explained","d":64,"v":-0.308},{"p":"B2","s":"Explained","d":65,"v":-0.327},{"p":"B2","s":"Explained","d":66,"v":-0.343},{"p":"B2","s":"Explained","d":67,"v":-0.358},{"p":"B2","s":"Explained","d":68,"v":-0.3705},{"p":"B2","s":"Explained","d":69,"v":-0.358},{"p":"B2","s":"Explained","d":70,"v":-0.3627},{"p":"B2","s":"Explained","d":71,"v":-0.3696},{"p":"B2","s":"Explained","d":251,"v":-0.3696},
      {"p":"B2","s":"Residual","d":0,"v":0},{"p":"B2","s":"Residual","d":10,"v":-0.004},{"p":"B2","s":"Residual","d":12,"v":-0.0087},{"p":"B2","s":"Residual","d":17,"v":-0.0102},{"p":"B2","s":"Residual","d":18,"v":-0.0134},{"p":"B2","s":"Residual","d":20,"v":-0.0196},{"p":"B2","s":"Residual","d":23,"v":-0.0242},{"p":"B2","s":"Residual","d":25,"v":-0.0264},{"p":"B2","s":"Residual","d":27,"v":-0.0242},{"p":"B2","s":"Residual","d":31,"v":-0.0165},{"p":"B2","s":"Residual","d":33,"v":-0.0149},{"p":"B2","s":"Residual","d":36,"v":-0.0134},{"p":"B2","s":"Residual","d":38,"v":-0.0118},{"p":"B2","s":"Residual","d":40,"v":-0.0087},{"p":"B2","s":"Residual","d":43,"v":-0.0118},{"p":"B2","s":"Residual","d":45,"v":-0.0087},{"p":"B2","s":"Residual","d":47,"v":-0.004},{"p":"B2","s":"Residual","d":49,"v":-0.0009},{"p":"B2","s":"Residual","d":51,"v":0.0006},{"p":"B2","s":"Residual","d":53,"v":0.0016},{"p":"B2","s":"Residual","d":56,"v":0.0016},{"p":"B2","s":"Residual","d":57,"v":0.0006},{"p":"B2","s":"Residual","d":59,"v":0.0037},{"p":"B2","s":"Residual","d":60,"v":0.0068},{"p":"B2","s":"Residual","d":62,"v":0.0099},{"p":"B2","s":"Residual","d":63,"v":0.0208},{"p":"B2","s":"Residual","d":65,"v":0.0301},{"p":"B2","s":"Residual","d":67,"v":0.0441},{"p":"B2","s":"Residual","d":68,"v":0.0565},{"p":"B2","s":"Residual","d":70,"v":0.068},{"p":"B2","s":"Residual","d":71,"v":0.0602},{"p":"B2","s":"Residual","d":251,"v":0.0602},
      {"p":"B2","s":"Vanna-level","d":0,"v":0},{"p":"B2","s":"Vanna-level","d":5,"v":0.0016},{"p":"B2","s":"Vanna-level","d":10,"v":0.0025},{"p":"B2","s":"Vanna-level","d":19,"v":0.0025},{"p":"B2","s":"Vanna-level","d":20,"v":0},{"p":"B2","s":"Vanna-level","d":24,"v":0.0006},{"p":"B2","s":"Vanna-level","d":25,"v":0.0059},{"p":"B2","s":"Vanna-level","d":27,"v":0.0022},{"p":"B2","s":"Vanna-level","d":31,"v":0},{"p":"B2","s":"Vanna-level","d":33,"v":-0.0003},{"p":"B2","s":"Vanna-level","d":36,"v":-0.0009},{"p":"B2","s":"Vanna-level","d":39,"v":-0.0025},{"p":"B2","s":"Vanna-level","d":40,"v":-0.004},{"p":"B2","s":"Vanna-level","d":42,"v":-0.0071},{"p":"B2","s":"Vanna-level","d":45,"v":-0.004},{"p":"B2","s":"Vanna-level","d":46,"v":0.0047},{"p":"B2","s":"Vanna-level","d":47,"v":-0.0003},{"p":"B2","s":"Vanna-level","d":50,"v":-0.0056},{"p":"B2","s":"Vanna-level","d":51,"v":-0.0065},{"p":"B2","s":"Vanna-level","d":53,"v":-0.0078},{"p":"B2","s":"Vanna-level","d":56,"v":-0.009},{"p":"B2","s":"Vanna-level","d":57,"v":-0.0096},{"p":"B2","s":"Vanna-level","d":58,"v":-0.0009},{"p":"B2","s":"Vanna-level","d":60,"v":-0.0047},{"p":"B2","s":"Vanna-level","d":61,"v":0.0016},{"p":"B2","s":"Vanna-level","d":62,"v":-0.0071},{"p":"B2","s":"Vanna-level","d":63,"v":-0.0134},{"p":"B2","s":"Vanna-level","d":64,"v":-0.018},{"p":"B2","s":"Vanna-level","d":66,"v":-0.0118},{"p":"B2","s":"Vanna-level","d":67,"v":-0.018},{"p":"B2","s":"Vanna-level","d":68,"v":-0.0242},{"p":"B2","s":"Vanna-level","d":69,"v":-0.0398},{"p":"B2","s":"Vanna-level","d":70,"v":-0.0491},{"p":"B2","s":"Vanna-level","d":71,"v":-0.0183},{"p":"B2","s":"Vanna-level","d":251,"v":-0.0183},
      {"p":"B2","s":"Vega-skew","d":0,"v":0},{"p":"B2","s":"Vega-skew","d":20,"v":-0.002},{"p":"B2","s":"Vega-skew","d":30,"v":-0.004},{"p":"B2","s":"Vega-skew","d":50,"v":-0.004},{"p":"B2","s":"Vega-skew","d":65,"v":-0.004},{"p":"B2","s":"Vega-skew","d":70,"v":-0.003},{"p":"B2","s":"Vega-skew","d":71,"v":-0.002},{"p":"B2","s":"Vega-skew","d":251,"v":-0.002},
      {"p":"B2","s":"Vanna-skew","d":0,"v":0},{"p":"B2","s":"Vanna-skew","d":40,"v":0.001},{"p":"B2","s":"Vanna-skew","d":60,"v":0.002},{"p":"B2","s":"Vanna-skew","d":71,"v":0.002},{"p":"B2","s":"Vanna-skew","d":251,"v":0.002},
      {"p":"B2","s":"Volga-level","d":0,"v":0},{"p":"B2","s":"Volga-level","d":71,"v":-0.001},{"p":"B2","s":"Volga-level","d":251,"v":-0.001},
      {"p":"B2","s":"Volga-skew","d":0,"v":0},{"p":"B2","s":"Volga-skew","d":71,"v":0.0005},{"p":"B2","s":"Volga-skew","d":251,"v":0.0005},

      {"p":"AL","s":"Explained","d":0,"v":0},{"p":"AL","s":"Explained","d":1,"v":0.012},{"p":"AL","s":"Explained","d":3,"v":0.016},{"p":"AL","s":"Explained","d":5,"v":0.006},{"p":"AL","s":"Explained","d":8,"v":0.015},{"p":"AL","s":"Explained","d":9,"v":0.004},{"p":"AL","s":"Explained","d":11,"v":0.03},{"p":"AL","s":"Explained","d":13,"v":0.022},{"p":"AL","s":"Explained","d":15,"v":0.045},{"p":"AL","s":"Explained","d":16,"v":0.036},{"p":"AL","s":"Explained","d":17,"v":0.014},{"p":"AL","s":"Explained","d":18,"v":0.034},{"p":"AL","s":"Explained","d":19,"v":0.004},{"p":"AL","s":"Explained","d":20,"v":-0.024},{"p":"AL","s":"Explained","d":21,"v":-0.047},{"p":"AL","s":"Explained","d":22,"v":-0.041},{"p":"AL","s":"Explained","d":23,"v":-0.085},{"p":"AL","s":"Explained","d":24,"v":-0.058},{"p":"AL","s":"Explained","d":25,"v":-0.078},{"p":"AL","s":"Explained","d":26,"v":-0.096},{"p":"AL","s":"Explained","d":27,"v":-0.113},{"p":"AL","s":"Explained","d":28,"v":-0.1},{"p":"AL","s":"Explained","d":29,"v":-0.108},{"p":"AL","s":"Explained","d":31,"v":-0.09},{"p":"AL","s":"Explained","d":32,"v":-0.07},{"p":"AL","s":"Explained","d":33,"v":-0.036},{"p":"AL","s":"Explained","d":34,"v":-0.046},{"p":"AL","s":"Explained","d":35,"v":-0.066},{"p":"AL","s":"Explained","d":37,"v":-0.097},{"p":"AL","s":"Explained","d":38,"v":-0.1},{"p":"AL","s":"Explained","d":39,"v":-0.121},{"p":"AL","s":"Explained","d":40,"v":-0.13},{"p":"AL","s":"Explained","d":41,"v":-0.128},{"p":"AL","s":"Explained","d":42,"v":-0.09},{"p":"AL","s":"Explained","d":43,"v":-0.05},{"p":"AL","s":"Explained","d":45,"v":-0.049},{"p":"AL","s":"Explained","d":46,"v":-0.09},{"p":"AL","s":"Explained","d":47,"v":-0.096},{"p":"AL","s":"Explained","d":48,"v":-0.09},{"p":"AL","s":"Explained","d":49,"v":-0.088},{"p":"AL","s":"Explained","d":50,"v":-0.088},{"p":"AL","s":"Explained","d":51,"v":-0.052},{"p":"AL","s":"Explained","d":53,"v":-0.037},{"p":"AL","s":"Explained","d":55,"v":-0.058},{"p":"AL","s":"Explained","d":56,"v":-0.09},{"p":"AL","s":"Explained","d":57,"v":-0.14},{"p":"AL","s":"Explained","d":58,"v":-0.178},{"p":"AL","s":"Explained","d":59,"v":-0.192},{"p":"AL","s":"Explained","d":60,"v":-0.2},{"p":"AL","s":"Explained","d":61,"v":-0.245},{"p":"AL","s":"Explained","d":62,"v":-0.2773},{"p":"AL","s":"Explained","d":63,"v":-0.3045},{"p":"AL","s":"Explained","d":65,"v":-0.3287},{"p":"AL","s":"Explained","d":66,"v":-0.3499},{"p":"AL","s":"Explained","d":67,"v":-0.3559},{"p":"AL","s":"Explained","d":68,"v":-0.365},{"p":"AL","s":"Explained","d":69,"v":-0.3499},{"p":"AL","s":"Explained","d":70,"v":-0.3559},{"p":"AL","s":"Explained","d":71,"v":-0.3626},{"p":"AL","s":"Explained","d":251,"v":-0.3626},
      {"p":"AL","s":"Residual","d":0,"v":0},{"p":"AL","s":"Residual","d":11,"v":-0.0082},{"p":"AL","s":"Residual","d":19,"v":-0.0142},{"p":"AL","s":"Residual","d":22,"v":-0.0233},{"p":"AL","s":"Residual","d":25,"v":-0.0257},{"p":"AL","s":"Residual","d":28,"v":-0.0218},{"p":"AL","s":"Residual","d":31,"v":-0.0172},{"p":"AL","s":"Residual","d":35,"v":-0.0148},{"p":"AL","s":"Residual","d":38,"v":-0.0127},{"p":"AL","s":"Residual","d":41,"v":-0.0097},{"p":"AL","s":"Residual","d":43,"v":-0.0118},{"p":"AL","s":"Residual","d":45,"v":-0.0097},{"p":"AL","s":"Residual","d":46,"v":-0.0112},{"p":"AL","s":"Residual","d":49,"v":-0.0051},{"p":"AL","s":"Residual","d":53,"v":-0.0021},{"p":"AL","s":"Residual","d":56,"v":-0.0006},{"p":"AL","s":"Residual","d":58,"v":0.0039},{"p":"AL","s":"Residual","d":61,"v":0.0085},{"p":"AL","s":"Residual","d":63,"v":0.0175},{"p":"AL","s":"Residual","d":65,"v":0.0266},{"p":"AL","s":"Residual","d":67,"v":0.0372},{"p":"AL","s":"Residual","d":69,"v":0.0523},{"p":"AL","s":"Residual","d":70,"v":0.062},{"p":"AL","s":"Residual","d":71,"v":0.0538},{"p":"AL","s":"Residual","d":251,"v":0.0538},
      {"p":"AL","s":"Vanna-level","d":0,"v":0},{"p":"AL","s":"Vanna-level","d":5,"v":0.003},{"p":"AL","s":"Vanna-level","d":19,"v":0.003},{"p":"AL","s":"Vanna-level","d":20,"v":0},{"p":"AL","s":"Vanna-level","d":24,"v":0},{"p":"AL","s":"Vanna-level","d":25,"v":0.0064},{"p":"AL","s":"Vanna-level","d":27,"v":0.0033},{"p":"AL","s":"Vanna-level","d":30,"v":0},{"p":"AL","s":"Vanna-level","d":35,"v":-0.0021},{"p":"AL","s":"Vanna-level","d":38,"v":-0.0027},{"p":"AL","s":"Vanna-level","d":41,"v":-0.0045},{"p":"AL","s":"Vanna-level","d":42,"v":-0.0021},{"p":"AL","s":"Vanna-level","d":45,"v":-0.0036},{"p":"AL","s":"Vanna-level","d":46,"v":0.0076},{"p":"AL","s":"Vanna-level","d":47,"v":0.0054},{"p":"AL","s":"Vanna-level","d":49,"v":-0.0021},{"p":"AL","s":"Vanna-level","d":52,"v":-0.0036},{"p":"AL","s":"Vanna-level","d":56,"v":-0.0051},{"p":"AL","s":"Vanna-level","d":57,"v":-0.0057},{"p":"AL","s":"Vanna-level","d":58,"v":0.0039},{"p":"AL","s":"Vanna-level","d":59,"v":-0.0006},{"p":"AL","s":"Vanna-level","d":60,"v":0.0039},{"p":"AL","s":"Vanna-level","d":61,"v":0.0064},{"p":"AL","s":"Vanna-level","d":62,"v":-0.0021},{"p":"AL","s":"Vanna-level","d":64,"v":-0.0067},{"p":"AL","s":"Vanna-level","d":65,"v":-0.0142},{"p":"AL","s":"Vanna-level","d":66,"v":-0.0067},{"p":"AL","s":"Vanna-level","d":67,"v":-0.0127},{"p":"AL","s":"Vanna-level","d":68,"v":-0.0233},{"p":"AL","s":"Vanna-level","d":70,"v":-0.0414},{"p":"AL","s":"Vanna-level","d":71,"v":-0.0112},{"p":"AL","s":"Vanna-level","d":251,"v":-0.0112},
      {"p":"AL","s":"Vega-skew","d":0,"v":0},{"p":"AL","s":"Vega-skew","d":20,"v":-0.003},{"p":"AL","s":"Vega-skew","d":40,"v":-0.004},{"p":"AL","s":"Vega-skew","d":60,"v":-0.004},{"p":"AL","s":"Vega-skew","d":68,"v":-0.005},{"p":"AL","s":"Vega-skew","d":70,"v":-0.003},{"p":"AL","s":"Vega-skew","d":71,"v":-0.002},{"p":"AL","s":"Vega-skew","d":251,"v":-0.002},
      {"p":"AL","s":"Vanna-skew","d":0,"v":0},{"p":"AL","s":"Vanna-skew","d":50,"v":0.001},{"p":"AL","s":"Vanna-skew","d":60,"v":0.003},{"p":"AL","s":"Vanna-skew","d":71,"v":0.003},{"p":"AL","s":"Vanna-skew","d":251,"v":0.003},
      {"p":"AL","s":"Volga-level","d":0,"v":0},{"p":"AL","s":"Volga-level","d":71,"v":0.001},{"p":"AL","s":"Volga-level","d":251,"v":0.001},
      {"p":"AL","s":"Volga-skew","d":0,"v":0},{"p":"AL","s":"Volga-skew","d":251,"v":0},

      {"p":"NA","s":"Actual","d":0,"v":0.0266},{"p":"NA","s":"Actual","d":2,"v":-0.0881},{"p":"NA","s":"Actual","d":3,"v":-0.0819},{"p":"NA","s":"Actual","d":4,"v":-0.084},{"p":"NA","s":"Actual","d":5,"v":-0.0676},{"p":"NA","s":"Actual","d":6,"v":-0.0574},{"p":"NA","s":"Actual","d":7,"v":-0.0655},{"p":"NA","s":"Actual","d":8,"v":-0.0561},{"p":"NA","s":"Actual","d":9,"v":-0.0655},{"p":"NA","s":"Actual","d":10,"v":-0.0143},{"p":"NA","s":"Actual","d":11,"v":0.0082},{"p":"NA","s":"Actual","d":12,"v":-0.0389},{"p":"NA","s":"Actual","d":13,"v":-0.0451},{"p":"NA","s":"Actual","d":14,"v":-0.0369},{"p":"NA","s":"Actual","d":15,"v":-0.0492},{"p":"NA","s":"Actual","d":16,"v":-0.0594},{"p":"NA","s":"Actual","d":17,"v":-0.0553},{"p":"NA","s":"Actual","d":18,"v":-0.0266},{"p":"NA","s":"Actual","d":19,"v":0.0041},{"p":"NA","s":"Actual","d":20,"v":-0.0307},{"p":"NA","s":"Actual","d":21,"v":-0.0266},{"p":"NA","s":"Actual","d":22,"v":-0.0594},{"p":"NA","s":"Actual","d":23,"v":-0.1127},{"p":"NA","s":"Actual","d":24,"v":-0.043},{"p":"NA","s":"Actual","d":25,"v":-0.0594},{"p":"NA","s":"Actual","d":26,"v":-0.0799},{"p":"NA","s":"Actual","d":27,"v":-0.086},{"p":"NA","s":"Actual","d":28,"v":-0.0717},{"p":"NA","s":"Actual","d":29,"v":0.0102},{"p":"NA","s":"Actual","d":30,"v":0.0246},{"p":"NA","s":"Actual","d":31,"v":0.0348},{"p":"NA","s":"Actual","d":32,"v":0.0512},{"p":"NA","s":"Actual","d":33,"v":0.0246},{"p":"NA","s":"Actual","d":34,"v":0.084},{"p":"NA","s":"Actual","d":35,"v":0.0594},{"p":"NA","s":"Actual","d":36,"v":0.0348},{"p":"NA","s":"Actual","d":37,"v":0.0287},{"p":"NA","s":"Actual","d":38,"v":0.0574},{"p":"NA","s":"Actual","d":39,"v":0.0246},{"p":"NA","s":"Actual","d":40,"v":0.0307},{"p":"NA","s":"Actual","d":41,"v":0.043},{"p":"NA","s":"Actual","d":42,"v":0.0676},{"p":"NA","s":"Actual","d":43,"v":0.1127},{"p":"NA","s":"Actual","d":44,"v":0.1475},{"p":"NA","s":"Actual","d":45,"v":0.129},{"p":"NA","s":"Actual","d":46,"v":0.127},{"p":"NA","s":"Actual","d":47,"v":0.1004},{"p":"NA","s":"Actual","d":48,"v":0.0553},{"p":"NA","s":"Actual","d":49,"v":0.041},{"p":"NA","s":"Actual","d":50,"v":0.0574},{"p":"NA","s":"Actual","d":51,"v":0.041},{"p":"NA","s":"Actual","d":52,"v":0.0369},{"p":"NA","s":"Actual","d":53,"v":0.0676},{"p":"NA","s":"Actual","d":54,"v":0.0963},{"p":"NA","s":"Actual","d":55,"v":0.0737},{"p":"NA","s":"Actual","d":56,"v":0.0553},{"p":"NA","s":"Actual","d":57,"v":0.0061},{"p":"NA","s":"Actual","d":58,"v":-0.0389},{"p":"NA","s":"Actual","d":59,"v":-0.0061},{"p":"NA","s":"Actual","d":60,"v":-0.0307},{"p":"NA","s":"Actual","d":61,"v":-0.0635},{"p":"NA","s":"Actual","d":62,"v":-0.0963},{"p":"NA","s":"Actual","d":63,"v":-0.1127},{"p":"NA","s":"Actual","d":64,"v":-0.043},{"p":"NA","s":"Actual","d":65,"v":-0.084},{"p":"NA","s":"Actual","d":66,"v":-0.1249},{"p":"NA","s":"Actual","d":67,"v":-0.1249},{"p":"NA","s":"Actual","d":68,"v":-0.1577},{"p":"NA","s":"Actual","d":69,"v":-0.1065},{"p":"NA","s":"Actual","d":70,"v":-0.1127},{"p":"NA","s":"Actual","d":71,"v":-0.0504},{"p":"NA","s":"Actual","d":72,"v":-0.0504},{"p":"NA","s":"Actual","d":251,"v":-0.0504},
      {"p":"NA","s":"Explained","d":0,"v":0.0266},{"p":"NA","s":"Explained","d":2,"v":-0.088},{"p":"NA","s":"Explained","d":3,"v":-0.082},{"p":"NA","s":"Explained","d":4,"v":-0.084},{"p":"NA","s":"Explained","d":5,"v":-0.068},{"p":"NA","s":"Explained","d":6,"v":-0.057},{"p":"NA","s":"Explained","d":7,"v":-0.065},{"p":"NA","s":"Explained","d":8,"v":-0.056},{"p":"NA","s":"Explained","d":9,"v":-0.065},{"p":"NA","s":"Explained","d":10,"v":-0.014},{"p":"NA","s":"Explained","d":11,"v":0.008},{"p":"NA","s":"Explained","d":12,"v":-0.039},{"p":"NA","s":"Explained","d":13,"v":-0.045},{"p":"NA","s":"Explained","d":14,"v":-0.037},{"p":"NA","s":"Explained","d":15,"v":-0.049},{"p":"NA","s":"Explained","d":16,"v":-0.059},{"p":"NA","s":"Explained","d":17,"v":-0.055},{"p":"NA","s":"Explained","d":18,"v":-0.027},{"p":"NA","s":"Explained","d":19,"v":0.004},{"p":"NA","s":"Explained","d":20,"v":-0.028},{"p":"NA","s":"Explained","d":21,"v":-0.025},{"p":"NA","s":"Explained","d":22,"v":-0.05},{"p":"NA","s":"Explained","d":23,"v":-0.08},{"p":"NA","s":"Explained","d":24,"v":-0.045},{"p":"NA","s":"Explained","d":25,"v":-0.055},{"p":"NA","s":"Explained","d":26,"v":-0.065},{"p":"NA","s":"Explained","d":27,"v":-0.062},{"p":"NA","s":"Explained","d":28,"v":-0.05},{"p":"NA","s":"Explained","d":29,"v":0.012},{"p":"NA","s":"Explained","d":30,"v":0.028},{"p":"NA","s":"Explained","d":31,"v":0.045},{"p":"NA","s":"Explained","d":32,"v":0.062},{"p":"NA","s":"Explained","d":33,"v":0.03},{"p":"NA","s":"Explained","d":34,"v":0.088},{"p":"NA","s":"Explained","d":35,"v":0.062},{"p":"NA","s":"Explained","d":36,"v":0.04},{"p":"NA","s":"Explained","d":37,"v":0.03},{"p":"NA","s":"Explained","d":38,"v":0.06},{"p":"NA","s":"Explained","d":39,"v":0.028},{"p":"NA","s":"Explained","d":40,"v":0.035},{"p":"NA","s":"Explained","d":41,"v":0.05},{"p":"NA","s":"Explained","d":42,"v":0.075},{"p":"NA","s":"Explained","d":43,"v":0.115},{"p":"NA","s":"Explained","d":44,"v":0.15},{"p":"NA","s":"Explained","d":45,"v":0.135},{"p":"NA","s":"Explained","d":46,"v":0.137},{"p":"NA","s":"Explained","d":47,"v":0.104},{"p":"NA","s":"Explained","d":48,"v":0.058},{"p":"NA","s":"Explained","d":49,"v":0.043},{"p":"NA","s":"Explained","d":50,"v":0.06},{"p":"NA","s":"Explained","d":51,"v":0.042},{"p":"NA","s":"Explained","d":52,"v":0.038},{"p":"NA","s":"Explained","d":53,"v":0.068},{"p":"NA","s":"Explained","d":54,"v":0.096},{"p":"NA","s":"Explained","d":55,"v":0.074},{"p":"NA","s":"Explained","d":56,"v":0.055},{"p":"NA","s":"Explained","d":57,"v":0.005},{"p":"NA","s":"Explained","d":58,"v":-0.04},{"p":"NA","s":"Explained","d":59,"v":-0.008},{"p":"NA","s":"Explained","d":60,"v":-0.035},{"p":"NA","s":"Explained","d":61,"v":-0.07},{"p":"NA","s":"Explained","d":62,"v":-0.1},{"p":"NA","s":"Explained","d":63,"v":-0.12},{"p":"NA","s":"Explained","d":64,"v":-0.05},{"p":"NA","s":"Explained","d":65,"v":-0.1127},{"p":"NA","s":"Explained","d":66,"v":-0.1536},{"p":"NA","s":"Explained","d":67,"v":-0.1577},{"p":"NA","s":"Explained","d":68,"v":-0.2028},{"p":"NA","s":"Explained","d":69,"v":-0.1536},{"p":"NA","s":"Explained","d":70,"v":-0.1741},{"p":"NA","s":"Explained","d":71,"v":-0.1024},{"p":"NA","s":"Explained","d":251,"v":-0.1024},
      {"p":"NA","s":"Volga-skew","d":0,"v":0.0246},{"p":"NA","s":"Volga-skew","d":2,"v":-0.0983},{"p":"NA","s":"Volga-skew","d":3,"v":-0.0922},{"p":"NA","s":"Volga-skew","d":4,"v":-0.0963},{"p":"NA","s":"Volga-skew","d":5,"v":-0.0717},{"p":"NA","s":"Volga-skew","d":6,"v":-0.0655},{"p":"NA","s":"Volga-skew","d":7,"v":-0.0758},{"p":"NA","s":"Volga-skew","d":8,"v":-0.0717},{"p":"NA","s":"Volga-skew","d":9,"v":-0.0676},{"p":"NA","s":"Volga-skew","d":10,"v":-0.0553},{"p":"NA","s":"Volga-skew","d":11,"v":-0.0553},{"p":"NA","s":"Volga-skew","d":12,"v":-0.0615},{"p":"NA","s":"Volga-skew","d":13,"v":-0.0615},{"p":"NA","s":"Volga-skew","d":14,"v":-0.0553},{"p":"NA","s":"Volga-skew","d":15,"v":-0.0881},{"p":"NA","s":"Volga-skew","d":16,"v":-0.084},{"p":"NA","s":"Volga-skew","d":17,"v":-0.0594},{"p":"NA","s":"Volga-skew","d":18,"v":-0.0143},{"p":"NA","s":"Volga-skew","d":19,"v":-0.0225},{"p":"NA","s":"Volga-skew","d":20,"v":0.0061},{"p":"NA","s":"Volga-skew","d":21,"v":0.0328},{"p":"NA","s":"Volga-skew","d":22,"v":-0.0184},{"p":"NA","s":"Volga-skew","d":23,"v":-0.0102},{"p":"NA","s":"Volga-skew","d":24,"v":-0.0061},{"p":"NA","s":"Volga-skew","d":25,"v":0.043},{"p":"NA","s":"Volga-skew","d":26,"v":0.0307},{"p":"NA","s":"Volga-skew","d":27,"v":0.0389},{"p":"NA","s":"Volga-skew","d":28,"v":0.0369},{"p":"NA","s":"Volga-skew","d":29,"v":0.1024},{"p":"NA","s":"Volga-skew","d":30,"v":0.1209},{"p":"NA","s":"Volga-skew","d":31,"v":0.1188},{"p":"NA","s":"Volga-skew","d":32,"v":0.1168},{"p":"NA","s":"Volga-skew","d":33,"v":0.0676},{"p":"NA","s":"Volga-skew","d":34,"v":0.129},{"p":"NA","s":"Volga-skew","d":35,"v":0.1188},{"p":"NA","s":"Volga-skew","d":36,"v":0.1127},{"p":"NA","s":"Volga-skew","d":38,"v":0.1536},{"p":"NA","s":"Volga-skew","d":39,"v":0.1577},{"p":"NA","s":"Volga-skew","d":40,"v":0.17},{"p":"NA","s":"Volga-skew","d":41,"v":0.1741},{"p":"NA","s":"Volga-skew","d":42,"v":0.1516},{"p":"NA","s":"Volga-skew","d":43,"v":0.1495},{"p":"NA","s":"Volga-skew","d":44,"v":0.202},{"p":"NA","s":"Volga-skew","d":45,"v":0.1844},{"p":"NA","s":"Volga-skew","d":46,"v":0.2212},{"p":"NA","s":"Volga-skew","d":47,"v":0.2274},{"p":"NA","s":"Volga-skew","d":48,"v":0.1659},{"p":"NA","s":"Volga-skew","d":49,"v":0.1393},{"p":"NA","s":"Volga-skew","d":50,"v":0.1147},{"p":"NA","s":"Volga-skew","d":52,"v":0.084},{"p":"NA","s":"Volga-skew","d":53,"v":0.0963},{"p":"NA","s":"Volga-skew","d":54,"v":0.1454},{"p":"NA","s":"Volga-skew","d":55,"v":0.1311},{"p":"NA","s":"Volga-skew","d":56,"v":0.1372},{"p":"NA","s":"Volga-skew","d":58,"v":0.1393},{"p":"NA","s":"Volga-skew","d":59,"v":0.1864},{"p":"NA","s":"Volga-skew","d":60,"v":0.17},{"p":"NA","s":"Volga-skew","d":61,"v":0.1925},{"p":"NA","s":"Volga-skew","d":62,"v":0.1884},{"p":"NA","s":"Volga-skew","d":63,"v":0.1803},{"p":"NA","s":"Volga-skew","d":64,"v":0.2458},{"p":"NA","s":"Volga-skew","d":65,"v":0.2151},{"p":"NA","s":"Volga-skew","d":66,"v":0.1966},{"p":"NA","s":"Volga-skew","d":67,"v":0.1925},{"p":"NA","s":"Volga-skew","d":68,"v":0.1639},{"p":"NA","s":"Volga-skew","d":69,"v":0.1925},{"p":"NA","s":"Volga-skew","d":70,"v":0.1782},{"p":"NA","s":"Volga-skew","d":71,"v":0.2614},{"p":"NA","s":"Volga-skew","d":251,"v":0.2614},
      {"p":"NA","s":"Residual","d":0,"v":0},{"p":"NA","s":"Residual","d":12,"v":-0.0082},{"p":"NA","s":"Residual","d":19,"v":-0.0123},{"p":"NA","s":"Residual","d":22,"v":-0.0205},{"p":"NA","s":"Residual","d":25,"v":-0.0246},{"p":"NA","s":"Residual","d":28,"v":-0.0184},{"p":"NA","s":"Residual","d":31,"v":-0.0143},{"p":"NA","s":"Residual","d":35,"v":-0.0123},{"p":"NA","s":"Residual","d":40,"v":-0.0082},{"p":"NA","s":"Residual","d":43,"v":-0.0111},{"p":"NA","s":"Residual","d":46,"v":-0.0102},{"p":"NA","s":"Residual","d":48,"v":-0.0041},{"p":"NA","s":"Residual","d":52,"v":0.0012},{"p":"NA","s":"Residual","d":57,"v":0.0029},{"p":"NA","s":"Residual","d":60,"v":0.0061},{"p":"NA","s":"Residual","d":62,"v":0.0102},{"p":"NA","s":"Residual","d":64,"v":0.0205},{"p":"NA","s":"Residual","d":66,"v":0.0328},{"p":"NA","s":"Residual","d":68,"v":0.0471},{"p":"NA","s":"Residual","d":70,"v":0.0635},{"p":"NA","s":"Residual","d":71,"v":0.0545},{"p":"NA","s":"Residual","d":251,"v":0.0545},
      {"p":"NA","s":"Vanna-level","d":0,"v":0},{"p":"NA","s":"Vanna-level","d":5,"v":0.0041},{"p":"NA","s":"Vanna-level","d":19,"v":0.0041},{"p":"NA","s":"Vanna-level","d":20,"v":0.0012},{"p":"NA","s":"Vanna-level","d":25,"v":0.007},{"p":"NA","s":"Vanna-level","d":27,"v":0.0029},{"p":"NA","s":"Vanna-level","d":31,"v":-0.0008},{"p":"NA","s":"Vanna-level","d":36,"v":-0.002},{"p":"NA","s":"Vanna-level","d":40,"v":-0.0041},{"p":"NA","s":"Vanna-level","d":42,"v":-0.0061},{"p":"NA","s":"Vanna-level","d":45,"v":0},{"p":"NA","s":"Vanna-level","d":46,"v":0.0082},{"p":"NA","s":"Vanna-level","d":48,"v":0.002},{"p":"NA","s":"Vanna-level","d":50,"v":-0.002},{"p":"NA","s":"Vanna-level","d":56,"v":-0.0061},{"p":"NA","s":"Vanna-level","d":58,"v":0.0041},{"p":"NA","s":"Vanna-level","d":60,"v":0.002},{"p":"NA","s":"Vanna-level","d":62,"v":0.0061},{"p":"NA","s":"Vanna-level","d":64,"v":-0.0041},{"p":"NA","s":"Vanna-level","d":65,"v":-0.0143},{"p":"NA","s":"Vanna-level","d":66,"v":-0.0061},{"p":"NA","s":"Vanna-level","d":67,"v":-0.0123},{"p":"NA","s":"Vanna-level","d":69,"v":-0.0266},{"p":"NA","s":"Vanna-level","d":70,"v":-0.0389},{"p":"NA","s":"Vanna-level","d":71,"v":-0.0102},{"p":"NA","s":"Vanna-level","d":251,"v":-0.0102},
      {"p":"NA","s":"Vega-skew","d":0,"v":0},{"p":"NA","s":"Vega-skew","d":20,"v":-0.002},{"p":"NA","s":"Vega-skew","d":40,"v":-0.004},{"p":"NA","s":"Vega-skew","d":60,"v":-0.004},{"p":"NA","s":"Vega-skew","d":68,"v":-0.005},{"p":"NA","s":"Vega-skew","d":71,"v":-0.002},{"p":"NA","s":"Vega-skew","d":251,"v":-0.002},
      {"p":"NA","s":"Vanna-skew","d":0,"v":0},{"p":"NA","s":"Vanna-skew","d":50,"v":0.001},{"p":"NA","s":"Vanna-skew","d":62,"v":0.003},{"p":"NA","s":"Vanna-skew","d":71,"v":0.003},{"p":"NA","s":"Vanna-skew","d":251,"v":0.003},
      {"p":"NA","s":"Volga-level","d":0,"v":0},{"p":"NA","s":"Volga-level","d":71,"v":0.001},{"p":"NA","s":"Volga-level","d":251,"v":0.001}
    ]
  },
  "data": {"name": "pnl"},
  "columns": 2,
  "bounds": "flush",
  "spacing": {"row": 68, "column": 131},
  "concat": [
    {
      "title": "BS zero-breakeven",
      "width": 1114, "height": 604,
      "layer": [
        {"data": {"values": [{}]}, "mark": {"type": "rule", "color": "black", "strokeWidth": 1.3}, "encoding": {"y": {"datum": 0}}},
        {
          "transform": [{"filter": "datum.p == 'A' || datum.p == 'BS'"}],
          "encoding": {
            "x": {"field": "d", "type": "quantitative", "title": null, "scale": {"domain": [-12.55, 263.55], "nice": false, "zero": false}, "axis": {"values": [0, 50, 100, 150, 200, 250], "labels": false}},
            "y": {"field": "v", "type": "quantitative", "title": "Cumul. PnL", "scale": {"domain": [-0.339, 0.148], "nice": false, "zero": false}, "axis": {"values": [-0.3, -0.2, -0.1, 0, 0.1], "format": ".1f", "titleFontSize": 14, "titlePadding": 26}},
            "color": {"field": "s", "type": "nominal", "scale": {"domain": ["Actual", "Explained", "Gamma/Theta", "Residual", "Vega-skew", "Vanna-level", "Vanna-skew", "Vega-level", "Volga-level", "Volga-skew"], "range": ["#000000", "#000000", "#4e79a7", "#79706e", "#e8a33c", "#59a14f", "#76b7b2", "#ff7f0e", "#b07aa1", "#ff9da7"]}, "legend": {"title": null, "encode": {"symbols": {"update": {"strokeDash": {"signal": "datum.value === 'Explained' ? [11, 4.6] : [1, 0]"}, "strokeWidth": {"signal": "datum.value === 'Actual' ? 4 : (datum.value === 'Explained' ? 2.8 : 2.2)"}}}}}},
            "strokeDash": {"field": "s", "type": "nominal", "scale": {"domain": ["Actual", "Explained", "Gamma/Theta", "Vega-level", "Vega-skew", "Vanna-level", "Vanna-skew", "Volga-level", "Volga-skew", "Residual"], "range": [[1, 0], [11, 4.6], [1, 0], [1, 0], [1, 0], [1, 0], [1, 0], [1, 0], [1, 0], [1, 0]]}, "legend": null},
            "strokeWidth": {"field": "s", "type": "nominal", "scale": {"type": "ordinal", "domain": ["Actual", "Explained", "Gamma/Theta", "Vega-level", "Vega-skew", "Vanna-level", "Vanna-skew", "Volga-level", "Volga-skew", "Residual"], "range": [4, 2.8, 2.2, 2.2, 2.2, 2.2, 2.2, 2.2, 2.2, 2.2]}, "legend": null}
          },
          "layer": [
            {"transform": [{"filter": "datum.s == 'Actual'"}], "mark": {"type": "line", "strokeJoin": "round"}},
            {"transform": [{"filter": "datum.s == 'Explained'"}], "mark": {"type": "line", "strokeJoin": "round"}},
            {"transform": [{"filter": "datum.s != 'Actual' && datum.s != 'Explained'"}], "mark": {"type": "line", "strokeJoin": "round"}}
          ]
        },
        {"data": {"values": [{}]}, "mark": {"type": "rule", "color": "#ff0000", "strokeWidth": 2.2, "strokeDash": [2.2, 3.6]}, "encoding": {"x": {"datum": 72}}}
      ]
    },
    {
      "title": "Local volatility",
      "width": 1114, "height": 604,
      "layer": [
        {"data": {"values": [{}]}, "mark": {"type": "rule", "color": "black", "strokeWidth": 1.3}, "encoding": {"y": {"datum": 0}}},
        {
          "transform": [{"filter": "datum.p == 'A' || datum.p == 'LV'"}],
          "encoding": {
            "x": {"field": "d", "type": "quantitative", "title": null, "scale": {"domain": [-12.55, 263.55], "nice": false, "zero": false}, "axis": {"values": [0, 50, 100, 150, 200, 250], "labels": false}},
            "y": {"field": "v", "type": "quantitative", "title": "Cumul. PnL", "scale": {"domain": [-0.4425, 0.1405], "nice": false, "zero": false}, "axis": {"values": [-0.4, -0.3, -0.2, -0.1, 0, 0.1], "format": ".1f", "titleFontSize": 14, "titlePadding": 26}},
            "color": {"field": "s", "type": "nominal", "scale": {"domain": ["Actual", "Explained", "Gamma/Theta", "Residual", "Vega-skew", "Vanna-level", "Vanna-skew", "Vega-level", "Volga-level", "Volga-skew"], "range": ["#000000", "#000000", "#4e79a7", "#79706e", "#e8a33c", "#59a14f", "#76b7b2", "#ff7f0e", "#b07aa1", "#ff9da7"]}, "legend": {"title": null, "encode": {"symbols": {"update": {"strokeDash": {"signal": "datum.value === 'Explained' ? [11, 4.6] : [1, 0]"}, "strokeWidth": {"signal": "datum.value === 'Actual' ? 4 : (datum.value === 'Explained' ? 2.8 : 2.2)"}}}}}},
            "strokeDash": {"field": "s", "type": "nominal", "scale": {"domain": ["Actual", "Explained", "Gamma/Theta", "Vega-level", "Vega-skew", "Vanna-level", "Vanna-skew", "Volga-level", "Volga-skew", "Residual"], "range": [[1, 0], [11, 4.6], [1, 0], [1, 0], [1, 0], [1, 0], [1, 0], [1, 0], [1, 0], [1, 0]]}, "legend": null},
            "strokeWidth": {"field": "s", "type": "nominal", "scale": {"type": "ordinal", "domain": ["Actual", "Explained", "Gamma/Theta", "Vega-level", "Vega-skew", "Vanna-level", "Vanna-skew", "Volga-level", "Volga-skew", "Residual"], "range": [4, 2.8, 2.2, 2.2, 2.2, 2.2, 2.2, 2.2, 2.2, 2.2]}, "legend": null}
          },
          "layer": [
            {"transform": [{"filter": "datum.s == 'Actual'"}], "mark": {"type": "line", "strokeJoin": "round"}},
            {"transform": [{"filter": "datum.s == 'Explained'"}], "mark": {"type": "line", "strokeJoin": "round"}},
            {"transform": [{"filter": "datum.s != 'Actual' && datum.s != 'Explained'"}], "mark": {"type": "line", "strokeJoin": "round"}}
          ]
        },
        {"data": {"values": [{}]}, "mark": {"type": "rule", "color": "#ff0000", "strokeWidth": 2.2, "strokeDash": [2.2, 3.6]}, "encoding": {"x": {"datum": 72}}}
      ]
    },
    {
      "title": "Bergomi 2F",
      "width": 1114, "height": 604,
      "layer": [
        {"data": {"values": [{}]}, "mark": {"type": "rule", "color": "black", "strokeWidth": 1.3}, "encoding": {"y": {"datum": 0}}},
        {
          "transform": [{"filter": "datum.p == 'A' || datum.p == 'B2'"}],
          "encoding": {
            "x": {"field": "d", "type": "quantitative", "title": null, "scale": {"domain": [-12.55, 263.55], "nice": false, "zero": false}, "axis": {"values": [0, 50, 100, 150, 200, 250], "labels": false}},
            "y": {"field": "v", "type": "quantitative", "title": "Cumul. PnL", "scale": {"domain": [-0.392, 0.09], "nice": false, "zero": false}, "axis": {"values": [-0.3, -0.2, -0.1, 0], "format": ".1f", "titleFontSize": 14, "titlePadding": 26}},
            "color": {"field": "s", "type": "nominal", "scale": {"domain": ["Actual", "Explained", "Gamma/Theta", "Residual", "Vega-skew", "Vanna-level", "Vanna-skew", "Vega-level", "Volga-level", "Volga-skew"], "range": ["#000000", "#000000", "#4e79a7", "#79706e", "#e8a33c", "#59a14f", "#76b7b2", "#ff7f0e", "#b07aa1", "#ff9da7"]}, "legend": {"title": null, "encode": {"symbols": {"update": {"strokeDash": {"signal": "datum.value === 'Explained' ? [11, 4.6] : [1, 0]"}, "strokeWidth": {"signal": "datum.value === 'Actual' ? 4 : (datum.value === 'Explained' ? 2.8 : 2.2)"}}}}}},
            "strokeDash": {"field": "s", "type": "nominal", "scale": {"domain": ["Actual", "Explained", "Gamma/Theta", "Vega-level", "Vega-skew", "Vanna-level", "Vanna-skew", "Volga-level", "Volga-skew", "Residual"], "range": [[1, 0], [11, 4.6], [1, 0], [1, 0], [1, 0], [1, 0], [1, 0], [1, 0], [1, 0], [1, 0]]}, "legend": null},
            "strokeWidth": {"field": "s", "type": "nominal", "scale": {"type": "ordinal", "domain": ["Actual", "Explained", "Gamma/Theta", "Vega-level", "Vega-skew", "Vanna-level", "Vanna-skew", "Volga-level", "Volga-skew", "Residual"], "range": [4, 2.8, 2.2, 2.2, 2.2, 2.2, 2.2, 2.2, 2.2, 2.2]}, "legend": null}
          },
          "layer": [
            {"transform": [{"filter": "datum.s == 'Actual'"}], "mark": {"type": "line", "strokeJoin": "round"}},
            {"transform": [{"filter": "datum.s == 'Explained'"}], "mark": {"type": "line", "strokeJoin": "round"}},
            {"transform": [{"filter": "datum.s != 'Actual' && datum.s != 'Explained'"}], "mark": {"type": "line", "strokeJoin": "round"}}
          ]
        },
        {"data": {"values": [{}]}, "mark": {"type": "rule", "color": "#ff0000", "strokeWidth": 2.2, "strokeDash": [2.2, 3.6]}, "encoding": {"x": {"datum": 72}}}
      ]
    },
    {
      "title": "Admissible LSV",
      "width": 1114, "height": 604,
      "layer": [
        {"data": {"values": [{}]}, "mark": {"type": "rule", "color": "black", "strokeWidth": 1.3}, "encoding": {"y": {"datum": 0}}},
        {
          "transform": [{"filter": "datum.p == 'A' || datum.p == 'AL'"}],
          "encoding": {
            "x": {"field": "d", "type": "quantitative", "title": null, "scale": {"domain": [-12.55, 263.55], "nice": false, "zero": false}, "axis": {"values": [0, 50, 100, 150, 200, 250], "labels": false}},
            "y": {"field": "v", "type": "quantitative", "title": "Cumul. PnL", "scale": {"domain": [-0.386, 0.083], "nice": false, "zero": false}, "axis": {"values": [-0.3, -0.2, -0.1, 0], "format": ".1f", "titleFontSize": 14, "titlePadding": 26}},
            "color": {"field": "s", "type": "nominal", "scale": {"domain": ["Actual", "Explained", "Gamma/Theta", "Residual", "Vega-skew", "Vanna-level", "Vanna-skew", "Vega-level", "Volga-level", "Volga-skew"], "range": ["#000000", "#000000", "#4e79a7", "#79706e", "#e8a33c", "#59a14f", "#76b7b2", "#ff7f0e", "#b07aa1", "#ff9da7"]}, "legend": {"title": null, "encode": {"symbols": {"update": {"strokeDash": {"signal": "datum.value === 'Explained' ? [11, 4.6] : [1, 0]"}, "strokeWidth": {"signal": "datum.value === 'Actual' ? 4 : (datum.value === 'Explained' ? 2.8 : 2.2)"}}}}}},
            "strokeDash": {"field": "s", "type": "nominal", "scale": {"domain": ["Actual", "Explained", "Gamma/Theta", "Vega-level", "Vega-skew", "Vanna-level", "Vanna-skew", "Volga-level", "Volga-skew", "Residual"], "range": [[1, 0], [11, 4.6], [1, 0], [1, 0], [1, 0], [1, 0], [1, 0], [1, 0], [1, 0], [1, 0]]}, "legend": null},
            "strokeWidth": {"field": "s", "type": "nominal", "scale": {"type": "ordinal", "domain": ["Actual", "Explained", "Gamma/Theta", "Vega-level", "Vega-skew", "Vanna-level", "Vanna-skew", "Volga-level", "Volga-skew", "Residual"], "range": [4, 2.8, 2.2, 2.2, 2.2, 2.2, 2.2, 2.2, 2.2, 2.2]}, "legend": null}
          },
          "layer": [
            {"transform": [{"filter": "datum.s == 'Actual'"}], "mark": {"type": "line", "strokeJoin": "round"}},
            {"transform": [{"filter": "datum.s == 'Explained'"}], "mark": {"type": "line", "strokeJoin": "round"}},
            {"transform": [{"filter": "datum.s != 'Actual' && datum.s != 'Explained'"}], "mark": {"type": "line", "strokeJoin": "round"}}
          ]
        },
        {"data": {"values": [{}]}, "mark": {"type": "rule", "color": "#ff0000", "strokeWidth": 2.2, "strokeDash": [2.2, 3.6]}, "encoding": {"x": {"datum": 72}}}
      ]
    },
    {
      "title": "Non-admissible LSV",
      "width": 1114, "height": 604,
      "layer": [
        {"data": {"values": [{}]}, "mark": {"type": "rule", "color": "black", "strokeWidth": 1.3}, "encoding": {"y": {"datum": 0}}},
        {
          "transform": [{"filter": "(datum.p == 'A' && datum.s != 'Actual') || datum.p == 'NA'"}],
          "encoding": {
            "x": {"field": "d", "type": "quantitative", "title": "Day", "scale": {"domain": [-12.55, 263.55], "nice": false, "zero": false}, "axis": {"values": [0, 50, 100, 150, 200, 250], "format": "d", "labelPadding": 6, "titleFontSize": 23, "titlePadding": 24}},
            "y": {"field": "v", "type": "quantitative", "title": "Cumul. PnL", "scale": {"domain": [-0.339, 0.287], "nice": false, "zero": false}, "axis": {"values": [-0.3, -0.2, -0.1, 0, 0.1, 0.2], "format": ".1f", "titleFontSize": 14, "titlePadding": 26}},
            "color": {"field": "s", "type": "nominal", "scale": {"domain": ["Actual", "Explained", "Gamma/Theta", "Residual", "Vega-skew", "Vanna-level", "Vanna-skew", "Vega-level", "Volga-level", "Volga-skew"], "range": ["#000000", "#000000", "#4e79a7", "#79706e", "#e8a33c", "#59a14f", "#76b7b2", "#ff7f0e", "#b07aa1", "#ff9da7"]}, "legend": {"title": null, "encode": {"symbols": {"update": {"strokeDash": {"signal": "datum.value === 'Explained' ? [11, 4.6] : [1, 0]"}, "strokeWidth": {"signal": "datum.value === 'Actual' ? 4 : (datum.value === 'Explained' ? 2.8 : 2.2)"}}}}}},
            "strokeDash": {"field": "s", "type": "nominal", "scale": {"domain": ["Actual", "Explained", "Gamma/Theta", "Vega-level", "Vega-skew", "Vanna-level", "Vanna-skew", "Volga-level", "Volga-skew", "Residual"], "range": [[1, 0], [11, 4.6], [1, 0], [1, 0], [1, 0], [1, 0], [1, 0], [1, 0], [1, 0], [1, 0]]}, "legend": null},
            "strokeWidth": {"field": "s", "type": "nominal", "scale": {"type": "ordinal", "domain": ["Actual", "Explained", "Gamma/Theta", "Vega-level", "Vega-skew", "Vanna-level", "Vanna-skew", "Volga-level", "Volga-skew", "Residual"], "range": [4, 2.8, 2.2, 2.2, 2.2, 2.2, 2.2, 2.2, 2.2, 2.2]}, "legend": null}
          },
          "layer": [
            {"transform": [{"filter": "datum.s == 'Actual'"}], "mark": {"type": "line", "strokeJoin": "round"}},
            {"transform": [{"filter": "datum.s == 'Explained'"}], "mark": {"type": "line", "strokeJoin": "round"}},
            {"transform": [{"filter": "datum.s != 'Actual' && datum.s != 'Explained' && datum.s != 'Volga-skew'"}], "mark": {"type": "line", "strokeJoin": "round"}},
            {"transform": [{"filter": "datum.s == 'Volga-skew'"}], "mark": {"type": "line", "strokeJoin": "round"}, "encoding": {"color": {"value": "#e15759"}}}
          ]
        },
        {"data": {"values": [{}]}, "mark": {"type": "rule", "color": "#ff0000", "strokeWidth": 2.2, "strokeDash": [2.2, 3.6]}, "encoding": {"x": {"datum": 72}}}
      ]
    }
  ]
}
